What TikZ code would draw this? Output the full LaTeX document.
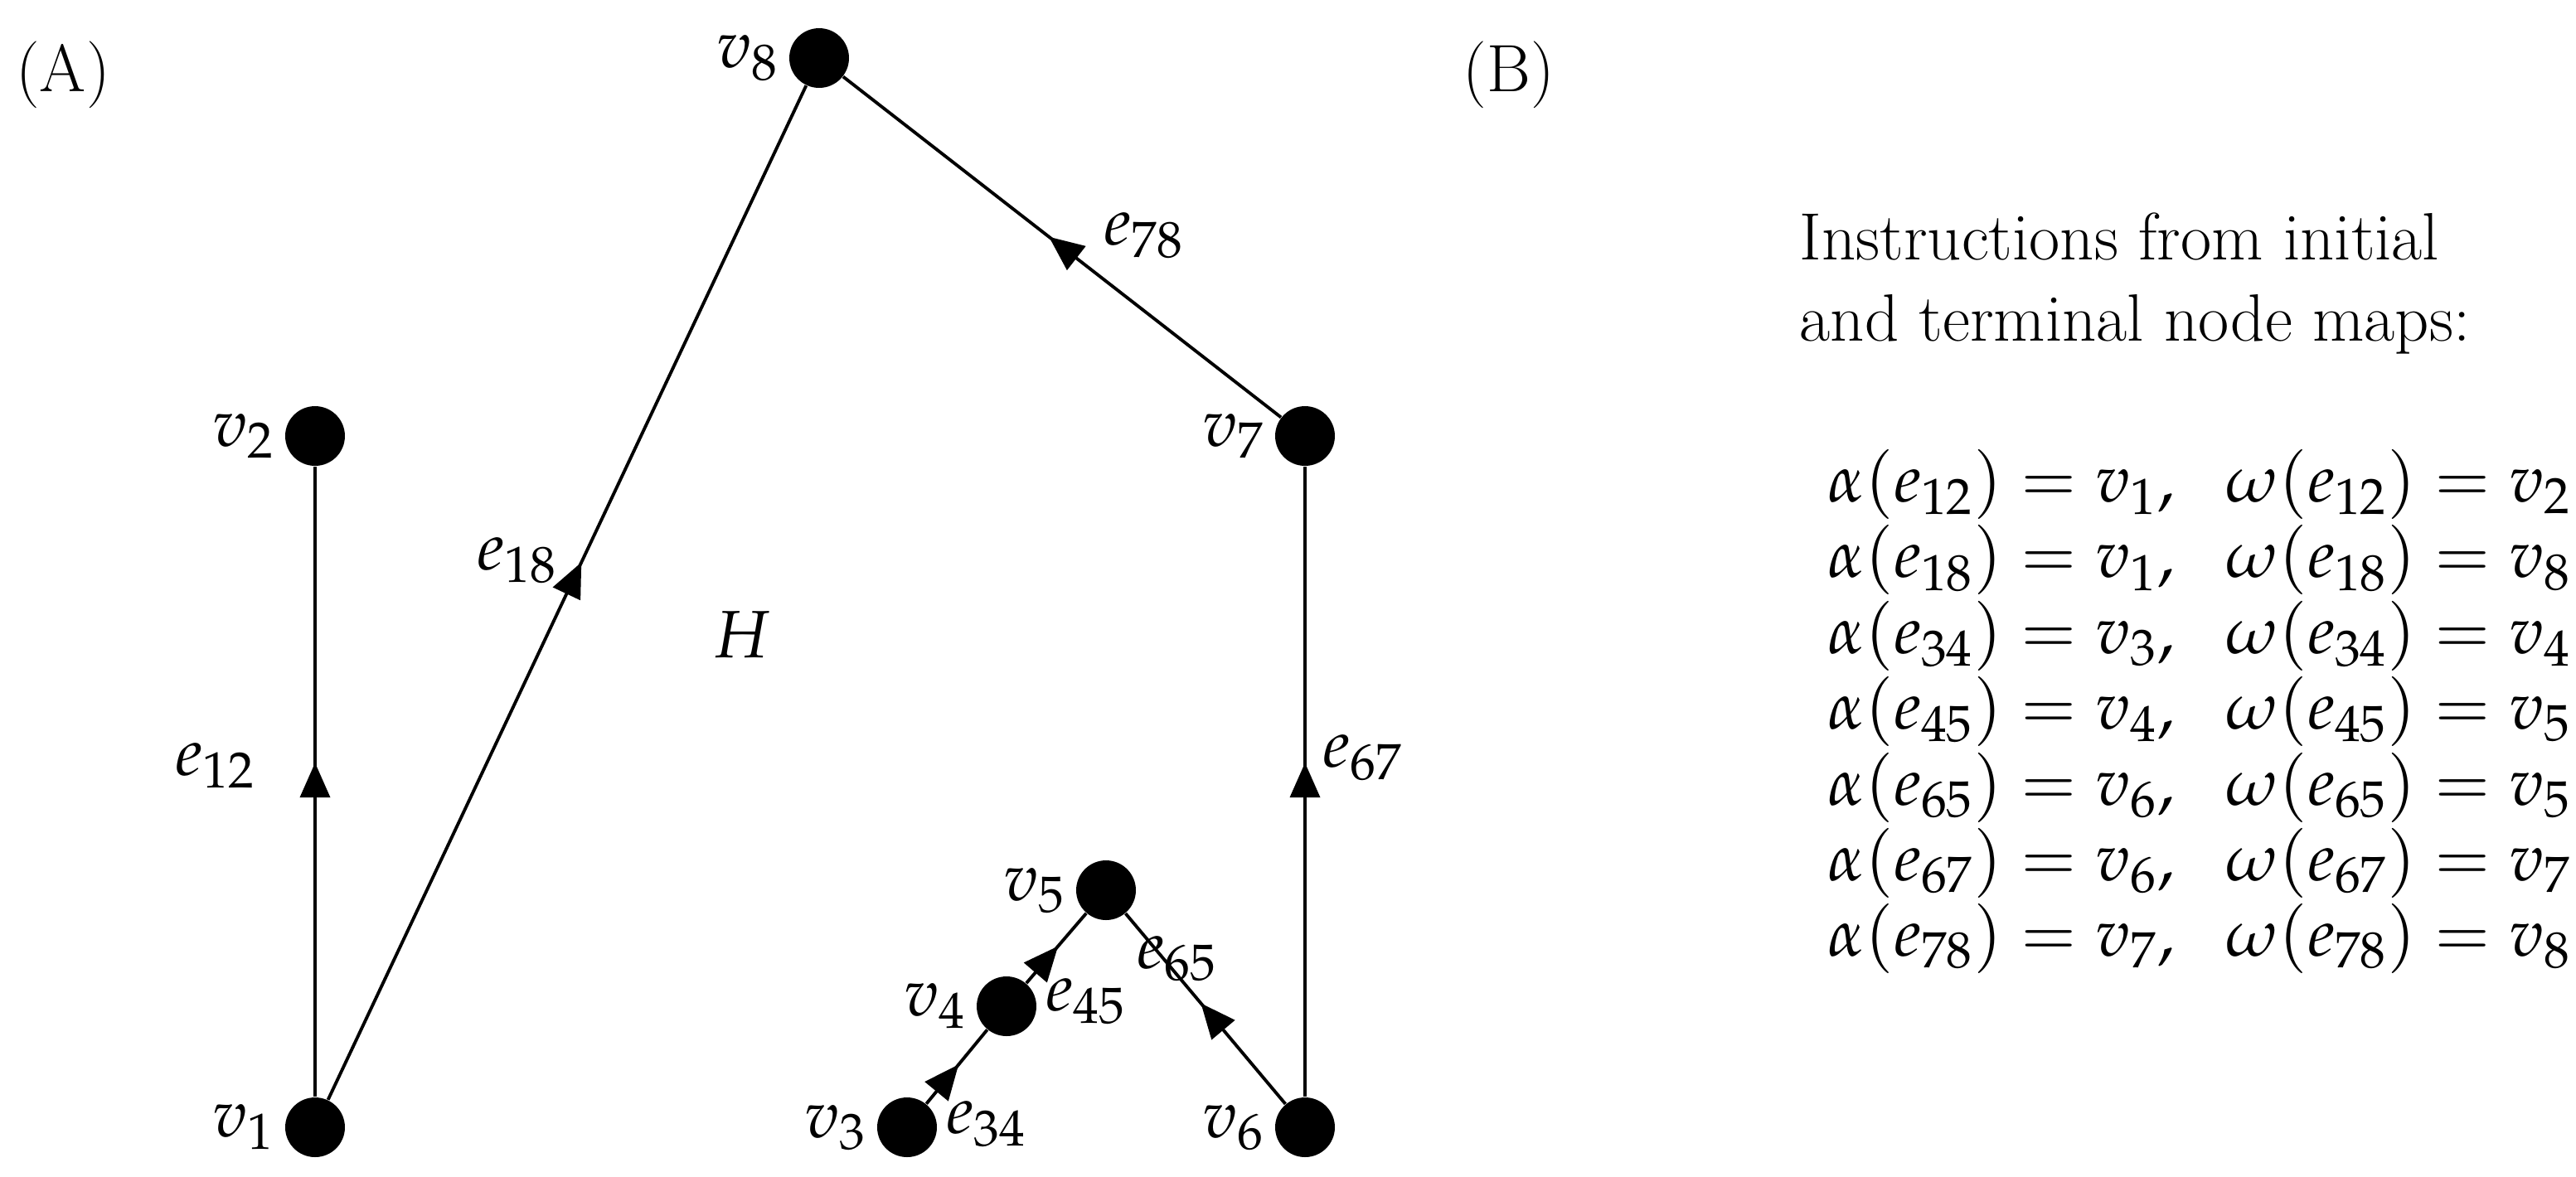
\documentclass[tikz,border=0pt]{standalone}
\usepackage{mathpazo}
\usetikzlibrary{arrows.meta,decorations.markings,positioning}
\begin{document}
\begin{tikzpicture}[
    x=0.02cm, y=-0.02cm,
    vertex/.style={circle, fill=black, inner sep=0pt, minimum size=0.72cm},
    lbl/.style={font=\fontsize{23}{28}\selectfont},
    link/.style={line width=1.1pt, postaction={decorate},
        decoration={markings, mark=at position 0.53 with {\arrow{Triangle[length=0.42cm,width=0.36cm]}}}}
]
\useasboundingbox (0,0) rectangle (1553.5,709.5);

% Panel labels
\node[lbl, font=\fontsize{23}{28}\selectfont\bfseries] (A) at (38,45) {(A)};
\node[lbl, font=\fontsize{23}{28}\selectfont\bfseries] (B) at (910,45) {(B)};

% Vertices
\node[vertex] (v1) at (190,680) {};
\node[vertex] (v2) at (190,263) {};
\node[vertex] (v3) at (547,680) {};
\node[vertex] (v4) at (607,607) {};
\node[vertex] (v5) at (667,537) {};
\node[vertex] (v6) at (787,680) {};
\node[vertex] (v7) at (787,263) {};
\node[vertex] (v8) at (494,35) {};

\foreach \v in {1,...,8} {
    \node[lbl, left=0pt of v\v] {$v_{\v}$};
}

% Edges
\draw[link] (v1) -- (v2);
\draw[link] (v1) -- (v8);
\draw[link] (v3) -- (v4);
\draw[link] (v4) -- (v5);
\draw[link] (v6) -- (v5);
\draw[link] (v6) -- (v7);
\draw[link] (v7) -- (v8);

% Edge labels
\node[lbl] (l12) at (130,462) {$e_{12}$};
\node[lbl] (l18) at (312,338) {$e_{18}$};
\node[lbl] (l78) at (690,142) {$e_{78}$};
\node[lbl] (l67) at (822,457) {$e_{67}$};
\node[lbl] (l65) at (710,578) {$e_{65}$};
\node[lbl] (l45) at (655,604) {$e_{45}$};
\node[lbl] (l34) at (595,678) {$e_{34}$};
\node[lbl] (H) at (447,383) {$H$};

% Instructions
\node[lbl, anchor=north west, align=left, inner sep=0pt] (head) at (1085,128)
    {Instructions from initial\\and terminal node maps:};
\node[lbl, anchor=north east, inner sep=0pt] (maps) at (1551,268) {%
$\begin{array}{@{}l@{}}
\alpha(e_{12})=v_1,\ \ \omega(e_{12})=v_2\\[-2pt]
\alpha(e_{18})=v_1,\ \ \omega(e_{18})=v_8\\[-2pt]
\alpha(e_{34})=v_3,\ \ \omega(e_{34})=v_4\\[-2pt]
\alpha(e_{45})=v_4,\ \ \omega(e_{45})=v_5\\[-2pt]
\alpha(e_{65})=v_6,\ \ \omega(e_{65})=v_5\\[-2pt]
\alpha(e_{67})=v_6,\ \ \omega(e_{67})=v_7\\[-2pt]
\alpha(e_{78})=v_7,\ \ \omega(e_{78})=v_8
\end{array}$};
\end{tikzpicture}
\end{document}
